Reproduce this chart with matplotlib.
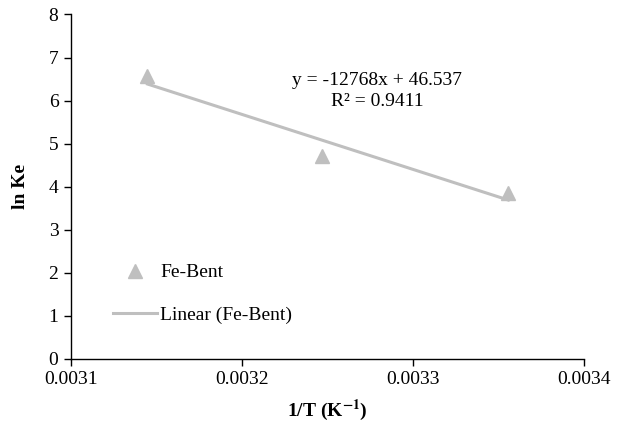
import numpy as np
import matplotlib.pyplot as plt

plt.rcParams['font.family'] = ['Liberation Serif', 'DejaVu Serif']
plt.rcParams['mathtext.fontset'] = 'stix'

# 1/T values (K^-1) and ln Ke for Fe-Bent
inv_T = [0.0031447, 0.0032468, 0.0033557]
ln_Ke = [6.57, 4.71, 3.86]

# fitted trend line
slope = -12768
intercept = 46.537
r2 = 0.9411

fig = plt.figure(figsize=(6.19, 4.26), dpi=100)
ax = fig.add_axes([0.1147, 0.1573, 0.8288, 0.8087])

gray = '#BFBFBF'
x_fit = np.array([inv_T[0], inv_T[-1]])
ax.plot(x_fit, slope * x_fit + intercept, color=gray, lw=2.2,
        label='Linear (Fe-Bent)', zorder=2)
ax.plot(inv_T, ln_Ke, ls='none', marker='^', ms=10, color=gray,
        label='Fe-Bent', zorder=3)

ax.set_xlim(0.0031, 0.0034)
ax.set_ylim(0, 8)
ax.set_xticks([0.0031, 0.0032, 0.0033, 0.0034])
ax.set_xticklabels(['0.0031', '0.0032', '0.0033', '0.0034'])
ax.set_yticks(range(0, 9))

for s in ['top', 'right']:
    ax.spines[s].set_visible(False)
for s in ['left', 'bottom']:
    ax.spines[s].set_linewidth(1.0)
ax.tick_params(direction='out', length=5, width=1, labelsize=14, pad=4)

ax.set_xlabel('1/T (K$^{\\mathbf{-1}}$)', fontsize=14, fontweight='bold', labelpad=7)
ax.set_ylabel('ln Ke', fontsize=14, fontweight='bold', labelpad=14)

ax.text(0.003279, 6.22, 'y = -12768x + 46.537\nR² = %.4f' % r2,
        ha='center', va='center', fontsize=14, linespacing=1.3)

handles, labels = ax.get_legend_handles_labels()
ax.legend(handles[::-1], labels[::-1], loc='lower left',
          bbox_to_anchor=(0.047, 0.05), frameon=False, fontsize=14,
          labelspacing=1.3, handlelength=2.3, handletextpad=0.15)

fig.savefig('out.png', dpi=100)
